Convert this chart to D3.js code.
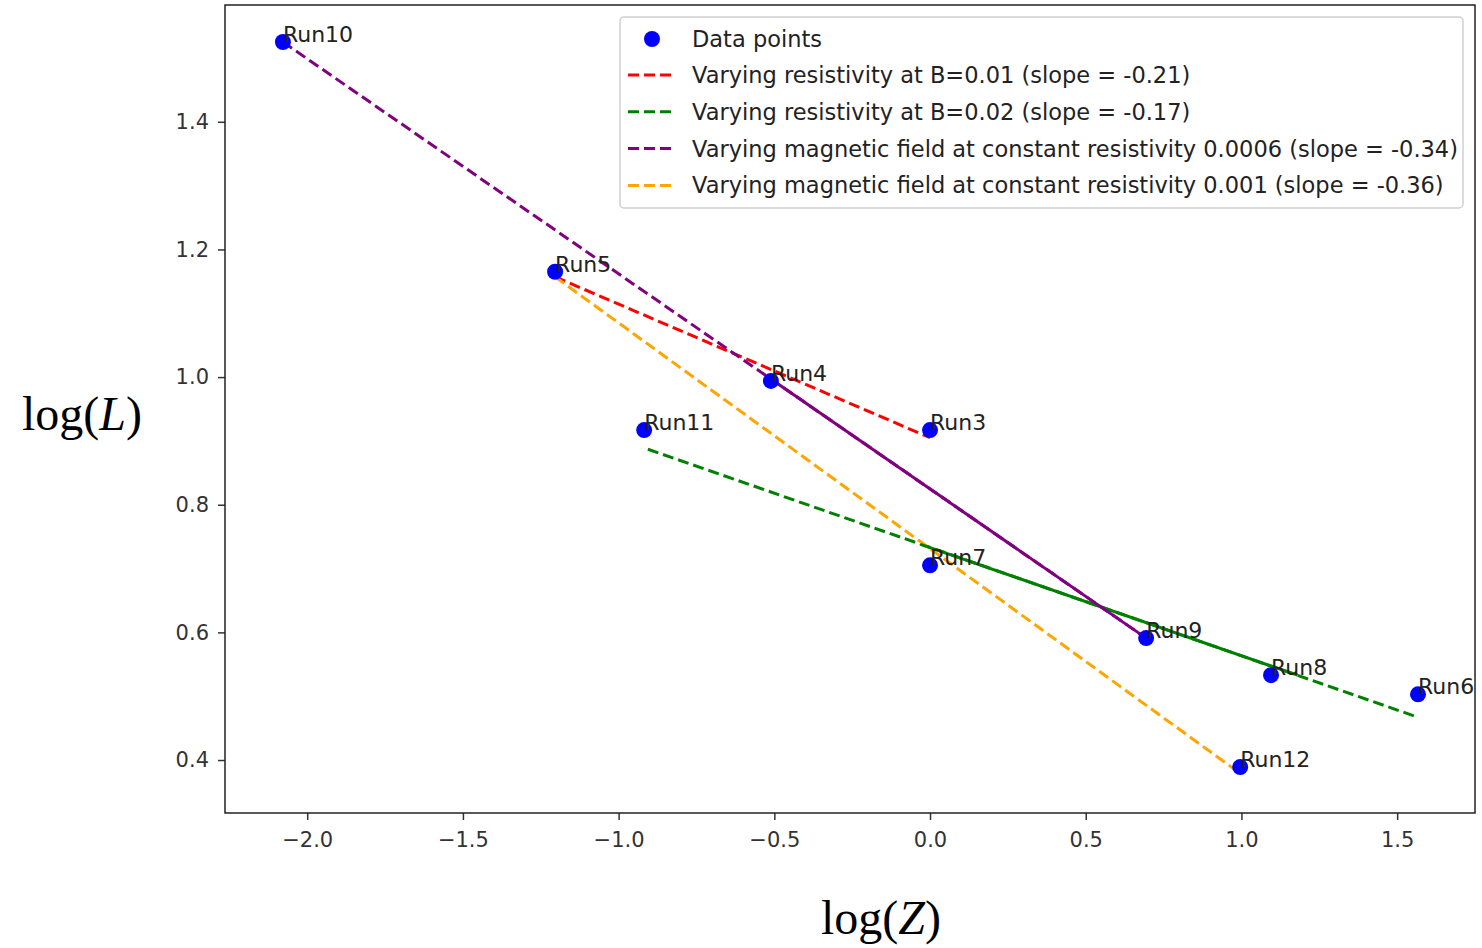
<!DOCTYPE html>
<html>
<head>
<meta charset="utf-8">
<script src="https://cdn.jsdelivr.net/npm/d3@7"></script>
<style>
  body { margin: 0; background: #fff; }
</style>
</head>
<body>
<div id="chart"></div>
<script>
// data points (log Z, log L)
var runNames = ["Run10", "Run5", "Run4", "Run11", "Run3", "Run7", "Run9", "Run8", "Run6", "Run12"];
var logZ = [-2.078, -1.204, -0.511, -0.918, 0.0, 0.0, 0.694, 1.095, 1.567, 0.996];
var logL = [1.525, 1.165, 0.994, 0.917, 0.917, 0.705, 0.591, 0.533, 0.503, 0.389];

// fitted lines: [x0, x1], [y0, y1]
var fitNames = [
  "Varying resistivity at B=0.01 (slope = -0.21)",
  "Varying resistivity at B=0.02 (slope = -0.17)",
  "Varying magnetic field at constant resistivity 0.0006 (slope = -0.34)",
  "Varying magnetic field at constant resistivity 0.001 (slope = -0.36)"
];
var fitColors = ["#ff0000", "#008000", "#800080", "#ffa500"];
var fitX = [[-1.204, 0.0], [-0.906, 1.567], [-2.078, 0.694], [-1.204, 0.996]];
var fitY = [[1.157, 0.905], [0.887, 0.467], [1.525, 0.591], [1.157, 0.379]];

// solid overlays seen on the green and purple fits
var solidColors = ["#008000", "#800080"];
var solidX = [[-0.03, 1.18], [-0.511, 0.694]];
var solidY = [[0.738, 0.533], [0.997, 0.591]];

var xTicks = [-2.0, -1.5, -1.0, -0.5, 0.0, 0.5, 1.0, 1.5];
var yTicks = [0.4, 0.6, 0.8, 1.0, 1.2, 1.4];

var W = 1482, H = 948;
var margin = { top: 5, right: 7, bottom: 135, left: 225 };
var width = W - margin.left - margin.right,
    height = H - margin.top - margin.bottom;

var sans = "DejaVu Sans, sans-serif";
var serif = "Liberation Serif, DejaVu Serif, serif";

var svg = d3.select("#chart").append("svg")
  .attr("width", W).attr("height", H);

var g = svg.append("g")
  .attr("transform", "translate(" + margin.left + "," + margin.top + ")");

var x = d3.scaleLinear().domain([-2.264, 1.75]).range([0, width]);
var y = d3.scaleLinear().domain([0.317, 1.583]).range([height, 0]);

// axes
var xAxis = g.append("g")
  .attr("transform", "translate(0," + height + ")")
  .call(d3.axisBottom(x).tickValues(xTicks).tickFormat(d3.format(".1f")).tickSizeOuter(0).tickSize(7).tickPadding(12));
var yAxis = g.append("g")
  .call(d3.axisLeft(y).tickValues(yTicks).tickFormat(d3.format(".1f")).tickSizeOuter(0).tickSize(7).tickPadding(9));
[xAxis, yAxis].forEach(function(a) {
  a.select(".domain").remove();
  a.selectAll("line").attr("stroke", "#333").attr("stroke-width", 1.5);
  a.selectAll("text").style("font-size", "21px").attr("fill", "#333")
    .style("font-family", sans);
});

// fit lines
var line = d3.line().x(function(d) { return x(d[0]); }).y(function(d) { return y(d[1]); });

fitX.forEach(function(xs, i) {
  g.append("path")
    .attr("d", line([[xs[0], fitY[i][0]], [xs[1], fitY[i][1]]]))
    .attr("fill", "none")
    .attr("stroke", fitColors[i])
    .attr("stroke-width", 3)
    .attr("stroke-dasharray", "11,5");
});

solidX.forEach(function(xs, i) {
  g.append("path")
    .attr("d", line([[xs[0], solidY[i][0]], [xs[1], solidY[i][1]]]))
    .attr("fill", "none")
    .attr("stroke", solidColors[i])
    .attr("stroke-width", 3);
});

// points
var pts = runNames.map(function(n, i) { return { name: n, x: logZ[i], y: logL[i] }; });

g.selectAll(".dot")
  .data(pts)
  .enter().append("circle")
  .attr("class", "dot")
  .attr("cx", function(d) { return x(d.x); })
  .attr("cy", function(d) { return y(d.y); })
  .attr("r", 8)
  .attr("fill", "#0000ff");

g.selectAll(".lbl")
  .data(pts)
  .enter().append("text")
  .attr("class", "lbl")
  .attr("x", function(d) { return x(d.x); })
  .attr("y", function(d) { return y(d.y); })
  .style("font-family", sans)
  .style("font-size", "22px")
  .attr("fill", "#222")
  .text(function(d) { return d.name; });

// frame
g.append("rect")
  .attr("width", width).attr("height", height)
  .attr("fill", "none").attr("stroke", "#222").attr("stroke-width", 1.5);

// legend
var lg = svg.append("g").attr("transform", "translate(620,17)");
lg.append("rect")
  .attr("width", 843).attr("height", 191).attr("rx", 4)
  .attr("fill", "#fff").attr("fill-opacity", 0.8)
  .attr("stroke", "#d0d0d0").attr("stroke-width", 1.5);

lg.append("circle").attr("cx", 32).attr("cy", 22).attr("r", 8).attr("fill", "#0000ff");
lg.append("text").attr("x", 72).attr("y", 30)
  .style("font-family", sans).style("font-size", "22.5px")
  .attr("fill", "#222").text("Data points");

fitNames.forEach(function(name, i) {
  var cy = 58 + i * 36.8;
  lg.append("line")
    .attr("x1", 8).attr("x2", 56).attr("y1", cy).attr("y2", cy)
    .attr("stroke", fitColors[i]).attr("stroke-width", 3)
    .attr("stroke-dasharray", "11,5");
  lg.append("text").attr("x", 72).attr("y", cy + 8)
    .style("font-family", sans).style("font-size", "22.5px")
    .attr("fill", "#222").text(name);
});

// axis titles
svg.append("text")
  .attr("x", 82).attr("y", 430)
  .attr("text-anchor", "middle")
  .style("font-family", serif)
  .style("font-size", "48px").attr("fill", "#000")
  .html('log(<tspan font-style="italic">L</tspan>)');

svg.append("text")
  .attr("x", 881).attr("y", 934)
  .attr("text-anchor", "middle")
  .style("font-family", serif)
  .style("font-size", "48px").attr("fill", "#000")
  .html('log(<tspan font-style="italic">Z</tspan>)');
</script>
</body>
</html>
